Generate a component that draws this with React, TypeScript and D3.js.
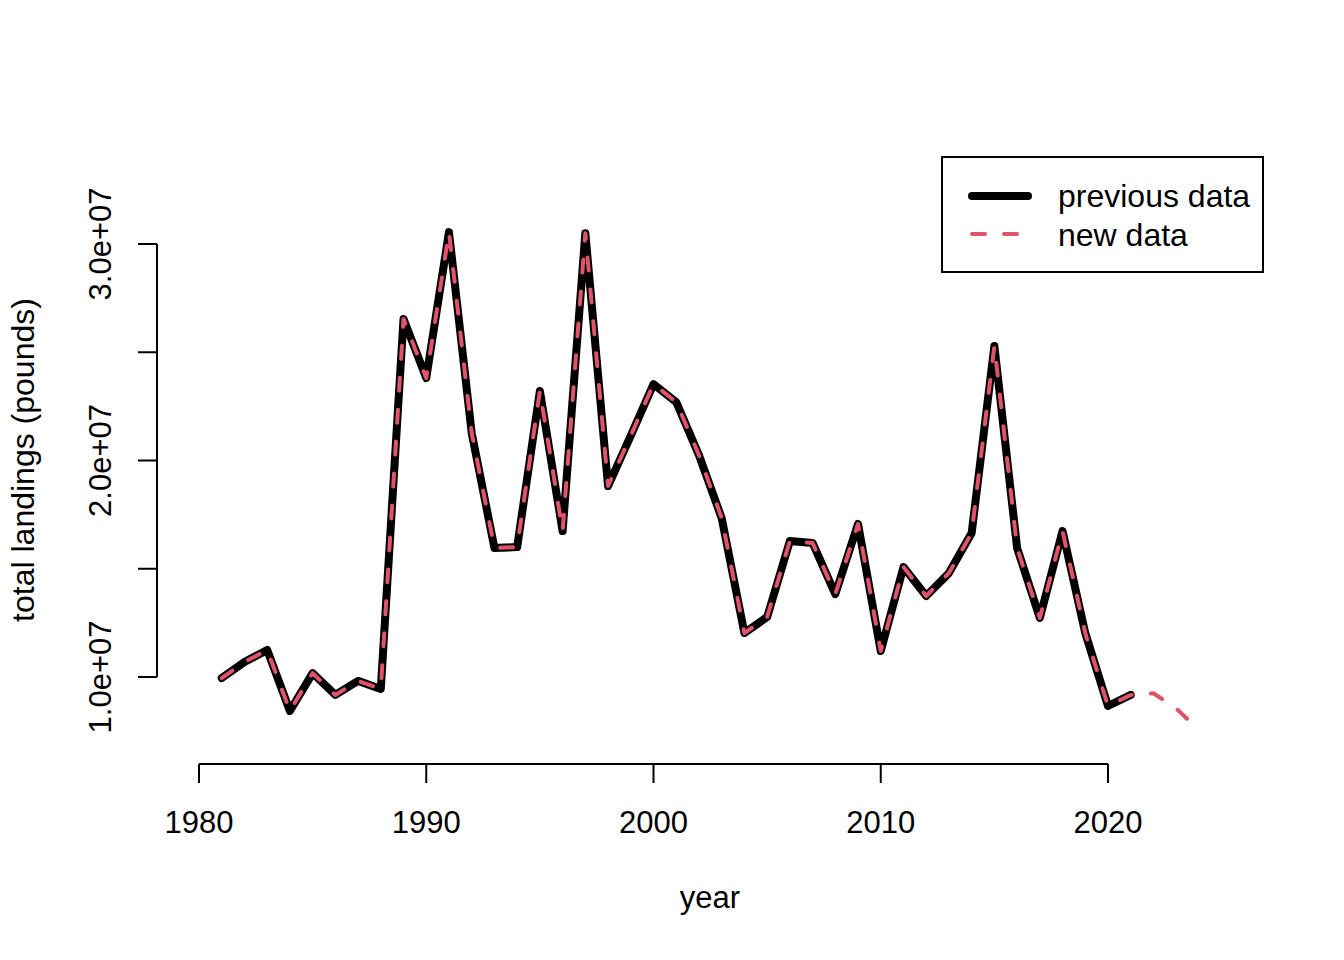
import { useEffect, useRef } from "react";
import * as d3 from "d3";

// values in millions of pounds
const prevYears = d3.range(1981, 2022);
const previousData = [
  9.95, 10.69, 11.25, 8.43, 10.18, 9.17, 9.82, 9.45, 26.54, 23.81,
  30.55, 21.27, 15.96, 16.0, 23.21, 16.74, 30.5, 18.82, 21.15, 23.53,
  22.7, 20.25, 17.34, 12.03, 12.77, 16.28, 16.19, 13.83, 17.07, 11.2,
  15.08, 13.74, 14.8, 16.65, 25.29, 15.96, 12.73, 16.74, 12.03, 8.66,
  9.17,
];
const newYears = d3.range(1981, 2025);
const newData = [...previousData, 9.25, 8.55, 7.55];

const xTicks = [1980, 1990, 2000, 2010, 2020];
const yTicks = [1e7, 1.5e7, 2e7, 2.5e7, 3e7];
const yLabelled = [1e7, 2e7, 3e7];

const legendItems = ["previous data", "new data"];

export default function App() {
  const ref = useRef<SVGSVGElement>(null);

  useEffect(() => {
    document.body.style.margin = "0";
    if (!ref.current) return;
    const svg = d3.select(ref.current);
    svg.selectAll("*").remove();

    const font = "'Liberation Sans', Arial, sans-serif";
    const fs = 31;
    const fsLab = 32;
    const red = "#DF536B";

    const x = d3.scaleLinear().domain([1980, 2020]).range([199, 1108]);
    const y = d3.scaleLinear().domain([1e7, 3e7]).range([677, 244]);

    // x axis
    const gx = svg.append("g").attr("stroke", "black").attr("stroke-width", 2);
    gx.append("line")
      .attr("x1", x(xTicks[0])).attr("x2", x(xTicks[xTicks.length - 1]))
      .attr("y1", 764).attr("y2", 764);
    gx.selectAll("line.tick").data(xTicks).join("line")
      .attr("class", "tick")
      .attr("x1", d => x(d)).attr("x2", d => x(d))
      .attr("y1", 764).attr("y2", 783);
    svg.append("g").selectAll("text").data(xTicks).join("text")
      .attr("x", d => x(d)).attr("y", 833)
      .attr("text-anchor", "middle")
      .style("font-family", font).style("font-size", `${fs}px`)
      .text(d => d);

    // y axis
    const gy = svg.append("g").attr("stroke", "black").attr("stroke-width", 2);
    gy.append("line")
      .attr("x1", 157).attr("x2", 157)
      .attr("y1", y(yTicks[0])).attr("y2", y(yTicks[yTicks.length - 1]));
    gy.selectAll("line.tick").data(yTicks).join("line")
      .attr("class", "tick")
      .attr("x1", 138).attr("x2", 157)
      .attr("y1", d => y(d)).attr("y2", d => y(d));
    svg.append("g").selectAll("text").data(yLabelled).join("text")
      .attr("transform", d => `translate(111,${y(d)}) rotate(-90)`)
      .attr("text-anchor", "middle")
      .style("font-family", font).style("font-size", `${fs}px`)
      .text(d => d3.format(".1e")(d).replace("e+", "e+0"));

    // axis titles
    svg.append("text")
      .attr("x", 710).attr("y", 908)
      .attr("text-anchor", "middle")
      .style("font-family", font).style("font-size", `${fs}px`)
      .text("year");
    svg.append("text")
      .attr("transform", "translate(34,460) rotate(-90)")
      .attr("text-anchor", "middle")
      .style("font-family", font).style("font-size", `${fsLab}px`)
      .text("total landings (pounds)");

    // lines
    const line = d3.line<[number, number]>()
      .x(d => x(d[0]))
      .y(d => y(d[1] * 1e6));

    svg.append("path")
      .datum(prevYears.map((yr, i) => [yr, previousData[i]] as [number, number]))
      .attr("d", line)
      .attr("fill", "none")
      .attr("stroke", "black")
      .attr("stroke-width", 8)
      .attr("stroke-linejoin", "round")
      .attr("stroke-linecap", "round");

    svg.append("path")
      .datum(newYears.map((yr, i) => [yr, newData[i]] as [number, number]))
      .attr("d", line)
      .attr("fill", "none")
      .attr("stroke", red)
      .attr("stroke-width", 4)
      .attr("stroke-dasharray", "13,19")
      .attr("stroke-linejoin", "round")
      .attr("stroke-linecap", "round");

    // legend
    const lg = svg.append("g");
    lg.append("rect")
      .attr("x", 942).attr("y", 157).attr("width", 321).attr("height", 115)
      .attr("fill", "white").attr("stroke", "black").attr("stroke-width", 2);
    lg.append("line")
      .attr("x1", 972).attr("x2", 1028).attr("y1", 196).attr("y2", 196)
      .attr("stroke", "black").attr("stroke-width", 8).attr("stroke-linecap", "round");
    lg.append("line")
      .attr("x1", 972).attr("x2", 1028).attr("y1", 234).attr("y2", 234)
      .attr("stroke", red).attr("stroke-width", 4)
      .attr("stroke-dasharray", "13,19").attr("stroke-linecap", "round");
    lg.selectAll("text").data(legendItems).join("text")
      .attr("x", 1058).attr("y", (_, i) => 207 + i * 39)
      .style("font-family", font).style("font-size", `${fsLab}px`)
      .text(d => d);
  }, []);

  return <svg ref={ref} width={1344} height={960} style={{ display: "block", background: "white" }} />;
}
